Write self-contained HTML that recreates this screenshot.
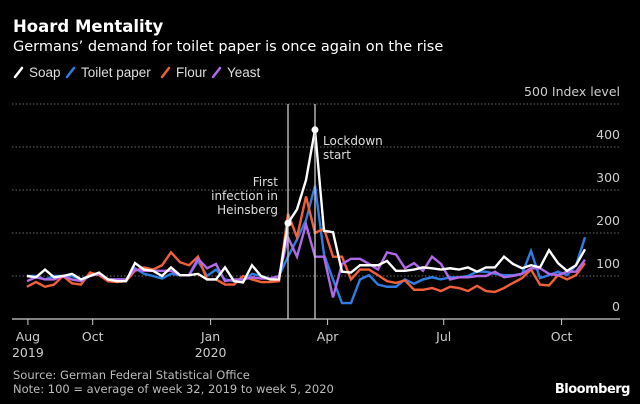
<!DOCTYPE html>
<html><head><meta charset="utf-8"><style>
html,body{margin:0;padding:0;background:#000;}
svg{display:block;font-family:"DejaVu Sans","Liberation Sans",sans-serif;}
</style></head><body>
<svg id="chart" width="640" height="404" viewBox="0 0 640 404">
<rect x="0" y="0" width="640" height="404" fill="#000"/>
<text x="13" y="32" fill="#fff" font-size="16.5" font-weight="bold">Hoard Mentality</text>
<text x="13" y="51" fill="#fff" font-size="14.5">Germans’ demand for toilet paper is once again on the rise</text>
<g id="legend"></g>
<g id="grid"></g>
<g id="xaxis"></g>
<g id="series"></g>
<g id="annot"></g>
<text x="13" y="379" fill="#bbb" font-size="11.5">Source: German Federal Statistical Office</text>
<text x="13" y="393" fill="#bbb" font-size="11.5">Note: 100 = average of week 32, 2019 to week 5, 2020</text>
<text x="630" y="393" fill="#fff" font-size="13" font-weight="bold" text-anchor="end" letter-spacing="-0.5">Bloomberg</text>
</svg>
<script>
const seriesNames = ["Soap","Toilet paper","Flour","Yeast"];
const seriesColors = ["#ffffff","#2f7de1","#f0603a","#b06ae8"];
const soap = [100,97,115,97,100,105,92,100,108,92,88,88,130,115,112,100,120,102,102,105,92,92,120,88,85,125,100,92,92,223,255,323,440,205,202,110,108,125,125,125,135,112,112,115,120,118,115,118,115,120,110,120,120,145,128,118,125,120,160,130,112,125,162];
const toilet = [100,100,92,100,100,100,92,102,105,92,92,92,118,105,100,94,105,102,102,135,100,115,92,88,88,105,100,94,100,145,185,230,310,150,92,37,37,92,102,80,75,75,92,82,92,97,92,97,97,100,110,110,105,102,102,105,158,95,102,110,102,125,190];
const flour = [75,86,75,80,100,83,80,108,102,88,86,88,112,120,115,125,155,132,125,145,92,92,80,80,100,92,86,86,88,245,190,285,200,210,145,145,92,115,115,102,88,84,90,68,68,72,65,75,72,65,77,65,63,72,84,95,115,80,78,102,92,102,130];
const yeast = [88,97,92,92,100,92,88,100,105,92,92,92,115,112,112,112,112,102,102,140,118,128,88,92,92,97,94,94,100,190,145,220,145,145,50,128,140,140,128,115,155,150,118,130,112,145,128,92,97,97,100,100,110,97,100,105,118,118,105,102,110,110,138];
const yTicks = [0,100,200,300,400,500];
const xTickLabels = ["Aug","Oct","Jan","Apr","Jul","Oct"];
const xTickYears = ["2019","","2020","","",""];
const xTickWeeks = [0.1,7.3,20.4,33.4,46.3,59.4];
const events = [{label:["First","infection in","Heinsberg"],week:29},{label:["Lockdown","start"],week:32}];

const NS="http://www.w3.org/2000/svg";
const X0=27, DX=9, Y0=319, KY=0.43, GL=12, GR=620;
const xs = i => X0 + DX*i;
const ys = v => Y0 - KY*v;
function mk(tag, attrs, parent){const e=document.createElementNS(NS,tag);for(const k in attrs)e.setAttribute(k,attrs[k]);parent.appendChild(e);return e;}

const legend=document.getElementById('legend');
const lx=[13,65,160,211];
seriesNames.forEach((n,k)=>{
  const g=mk('g',{},legend);
  
  
  mk('line',{x1:lx[k]+2,y1:77,x2:lx[k]+9,y2:68,stroke:seriesColors[k],'stroke-width':2.5,'stroke-linecap':'round'},g);
  const t=mk('text',{x:lx[k]+16,y:77,fill:'#ddd','font-size':'13.5','font-family':'Liberation Sans, sans-serif'},g);
  t.textContent=n;
});

const grid=document.getElementById('grid');
yTicks.forEach(v=>{
  if(v>0){
    const l=mk('line',{x1:GL,x2:GR,y1:ys(v),y2:ys(v),stroke:'#666','stroke-width':1,'stroke-dasharray':'1.5 2'},grid);
    
    
  }
  const t=mk('text',{x:GR,y:ys(v)-8,fill:'#ccc','font-size':'12.5','text-anchor':'end'},grid);
  
  
  t.textContent = v===500 ? '500 Index level' : String(v);
});

const xa=document.getElementById('xaxis');
const al=mk('line',{x1:GL,x2:GR,y1:Y0,y2:Y0,stroke:'#ccc','stroke-width':1.3},xa);


xTickLabels.forEach((lab,k)=>{
  const x=xs(xTickWeeks[k]);
  mk('line',{x1:x,x2:x,y1:Y0,y2:Y0+6,stroke:'#ccc','stroke-width':1},xa);
  const t=mk('text',{x:x,y:Y0+22,fill:'#ccc','font-size':'12.5','text-anchor':'middle'},xa);
  
  
  t.textContent=lab;
  if(xTickYears[k]){
    const t2=mk('text',{x:x,y:Y0+38,fill:'#ccc','font-size':'12.5','text-anchor':'middle'},xa);
    
    
    t2.textContent=xTickYears[k];
  }
});

const annot=document.getElementById('annot');
events.forEach((ev,k)=>{
  const x=xs(ev.week);
  const l=mk('line',{x1:x,x2:x,y1:ys(500),y2:Y0,stroke:'#ccc','stroke-width':1.3},annot);
  
  
});

const sg=document.getElementById('series');
[toilet,flour,yeast,soap].forEach((arr,j)=>{
  const k=[1,2,3,0][j];
  const p=mk('polyline',{points:arr.map((v,i)=>xs(i)+','+ys(v)).join(' '),fill:'none',stroke:seriesColors[k],'stroke-width':2.4,'stroke-linejoin':'miter'},sg);
  
  
});

events.forEach((ev,k)=>{
  const x=xs(ev.week), y=ys(soap[ev.week]);
  const d=mk('circle',{cx:x,cy:y,r:3.5,fill:'#fff'},annot);
  
  
  ev.label.forEach((s,m)=>{
    const t = k===0
      ? mk('text',{x:x-10,y:186+m*14,fill:'#ddd','font-size':'12','text-anchor':'end'},annot)
      : mk('text',{x:x+8,y:145+m*14,fill:'#ddd','font-size':'12'},annot);
    
    
    t.textContent=s;
  });
});
</script>
</body></html>
